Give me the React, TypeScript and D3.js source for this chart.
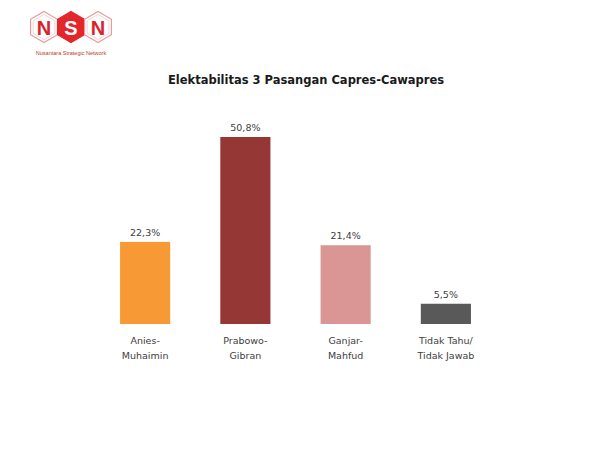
import React from "react";
import * as d3 from "d3";

const categories = ["Anies-Muhaimin", "Prabowo-Gibran", "Ganjar-Mahfud", "Tidak Tahu/Tidak Jawab"];
const categoryLines = [["Anies-", "Muhaimin"], ["Prabowo-", "Gibran"], ["Ganjar-", "Mahfud"], ["Tidak Tahu/", "Tidak Jawab"]];
const values = [22.3, 50.8, 21.4, 5.5];
const valueLabels = ["22,3%", "50,8%", "21,4%", "5,5%"];
const colors = ["#F79A36", "#953735", "#D99694", "#595959"];
const title = "Elektabilitas 3 Pasangan Capres-Cawapres";
const logoLetters = ["N", "S", "N"];

const W = 603;
const H = 450;

export default function App() {
  const x = d3.scaleBand<string>().domain(categories).range([95, 496]).paddingInner(0.5).paddingOuter(0.25);
  const y = d3.scaleLinear().domain([0, 50.8]).range([324, 137]);
  const hex = (cx: number, cy: number, r: number) =>
    d3.range(6).map((i) => {
      const a = (Math.PI / 3) * i - Math.PI / 2;
      return [cx + r * Math.cos(a), cy + r * Math.sin(a)];
    }).map((p) => p.join(",")).join(" ");
  const hexX = d3.scalePoint<number>().domain([0, 1, 2]).range([44, 98]);
  const font = "Tahoma, 'DejaVu Sans', Verdana, sans-serif";
  return (
    <svg width={W} height={H} style={{ position: "absolute", left: 0, top: 0, background: "#fff" }}>
      <rect width={W} height={H} fill="#fff" />
      <g>
        {logoLetters.map((l, i) => {
          const cx = hexX(i)!;
          const filled = i === 1;
          return (
            <g key={i}>
              <polygon points={hex(cx, 27, 15.5)} fill={filled ? "#E3262B" : "#fff"} stroke={filled ? "#E3262B" : "#E89A9C"} strokeWidth={1.2} />
              {!filled && <polygon points={hex(cx, 27, 12.5)} fill="none" stroke="#F3C9CA" strokeWidth={0.8} />}
              <text x={cx} y={34.5} textAnchor="middle" fontFamily="'Liberation Sans', Arial, sans-serif" fontWeight="bold" fontSize={20} fill={filled ? "#fff" : "#D9232A"}>{l}</text>
            </g>
          );
        })}
        <text x={71} y={55} textAnchor="middle" fontFamily="'Liberation Sans', Arial, sans-serif" fontSize={5.5} fill="#C0392B">Nusantara Strategic Network</text>
      </g>
      <text x={306} y={84} textAnchor="middle" fontFamily={font} fontWeight="bold" fontSize={11.5} fill="#1a1a1a">{title}</text>
      {categories.map((c, i) => (
        <g key={c}>
          <rect x={x(c)} y={y(values[i])} width={x.bandwidth()} height={y(0) - y(values[i])} fill={colors[i]} />
          <text x={x(c)! + x.bandwidth() / 2} y={y(values[i]) - 6} textAnchor="middle" fontFamily={font} fontSize={9.5} fill="#404040">{valueLabels[i]}</text>
          {categoryLines[i].map((t, j) => (
            <text key={j} x={x(c)! + x.bandwidth() / 2} y={344 + j * 15} textAnchor="middle" fontFamily={font} fontSize={9.5} fill="#404040">{t}</text>
          ))}
        </g>
      ))}
    </svg>
  );
}
